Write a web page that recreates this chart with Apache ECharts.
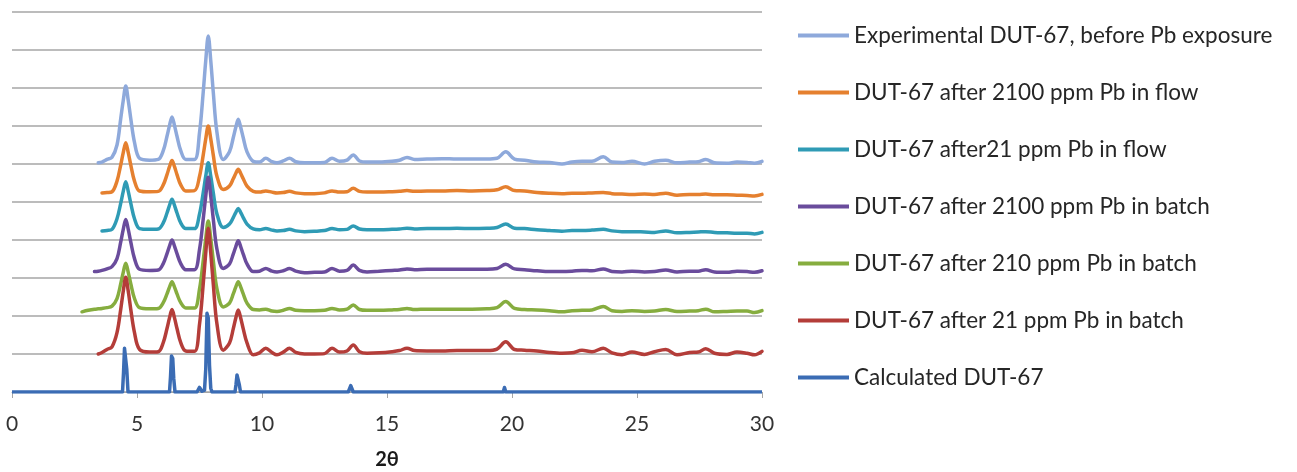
<!DOCTYPE html>
<html>
<head>
<meta charset="utf-8">
<script src="https://cdn.jsdelivr.net/npm/echarts@6/dist/echarts.min.js"></script>
<style>
html,body{margin:0;padding:0;background:#fff;overflow:hidden;}
#chart{width:1297px;height:472px;}
</style>
</head>
<body>
<div id="chart"></div>
<script>
// 2θ sampling positions shared by the experimental patterns
const twoTheta = [
  2.8, 3.05, 3.3, 3.45, 3.6, 3.8, 4.0, 4.2, 4.35, 4.45,
  4.55, 4.65, 4.75, 4.9, 5.1, 5.5, 5.85, 6.05, 6.2, 6.3,
  6.4, 6.5, 6.6, 6.75, 6.95, 7.3, 7.5, 7.65, 7.75, 7.85,
  7.95, 8.05, 8.2, 8.45, 8.7, 8.85, 8.95, 9.05, 9.15, 9.25,
  9.4, 9.65, 9.9, 10.15, 10.4, 10.6, 10.85, 11.1, 11.35, 11.7,
  12.1, 12.5, 12.8, 13.1, 13.4, 13.65, 13.9, 14.2, 14.7, 15.2,
  15.5, 15.8, 16.1, 16.6, 17.2, 17.8, 18.4, 19.0, 19.4, 19.75,
  20.1, 20.5, 21.0, 21.5, 22.0, 22.4, 22.8, 23.2, 23.65, 24.0,
  24.4, 24.8, 25.3, 25.7, 26.15, 26.6, 27.1, 27.45, 27.75, 28.1,
  28.6, 29.0, 29.4, 29.7, 30.0
];
const expBefore = [
  null, null, null, 6.03, 6.05, 6.12, 6.18, 6.5, 7.2, 7.67,
  8.05, 7.67, 7.2, 6.57, 6.15, 6.1, 6.12, 6.35, 6.73, 7.01,
  7.24, 7.01, 6.73, 6.35, 6.12, 6.12, 6.82, 7.9, 8.72, 9.37,
  8.72, 7.9, 6.82, 6.12, 6.32, 6.69, 6.96, 7.18, 6.96, 6.69,
  6.32, 6.07, 6.05, 6.15, 6.06, 6.03, 6.08, 6.15, 6.06, 6.03,
  6.03, 6.04, 6.15, 6.07, 6.1, 6.24, 6.08, 6.05, 6.05, 6.07,
  6.1, 6.17, 6.12, 6.13, 6.14, 6.13, 6.13, 6.13, 6.15, 6.32,
  6.13, 6.1, 6.05, 6.04, 6.0, 6.05, 6.07, 6.07, 6.19, 6.05,
  6.04, 6.07, 6.0, 6.07, 6.1, 6.03, 6.05, 6.06, 6.12, 6.03,
  6.02, 6.05, 6.04, 6.02, 6.07
];
const flow2100 = [
  null, null, null, null, 5.24, 5.25, 5.27, 5.55, 5.98, 6.3,
  6.56, 6.3, 5.98, 5.55, 5.29, 5.27, 5.28, 5.45, 5.72, 5.93,
  6.09, 5.93, 5.72, 5.45, 5.29, 5.3, 5.67, 6.24, 6.66, 7.0,
  6.66, 6.24, 5.67, 5.33, 5.42, 5.61, 5.75, 5.86, 5.75, 5.61,
  5.42, 5.28, 5.26, 5.29, 5.26, 5.24, 5.25, 5.28, 5.24, 5.22,
  5.22, 5.24, 5.29, 5.26, 5.27, 5.36, 5.28, 5.26, 5.26, 5.27,
  5.28, 5.3, 5.28, 5.29, 5.29, 5.3, 5.29, 5.3, 5.32, 5.4,
  5.3, 5.29, 5.25, 5.23, 5.22, 5.23, 5.23, 5.24, 5.25, 5.22,
  5.21, 5.2, 5.21, 5.2, 5.23, 5.18, 5.2, 5.2, 5.21, 5.19,
  5.19, 5.18, 5.17, 5.16, 5.2
];
const flow21 = [
  null, null, null, null, 4.24, 4.25, 4.28, 4.56, 4.97, 5.28,
  5.53, 5.28, 4.97, 4.56, 4.3, 4.28, 4.29, 4.45, 4.71, 4.91,
  5.07, 4.91, 4.71, 4.45, 4.3, 4.3, 4.68, 5.25, 5.68, 6.03,
  5.68, 5.25, 4.68, 4.33, 4.42, 4.59, 4.72, 4.83, 4.72, 4.59,
  4.42, 4.29, 4.27, 4.3, 4.26, 4.24, 4.25, 4.28, 4.24, 4.22,
  4.23, 4.25, 4.3, 4.27, 4.28, 4.37, 4.29, 4.27, 4.27, 4.28,
  4.29, 4.31, 4.29, 4.3, 4.3, 4.31, 4.3, 4.31, 4.33, 4.42,
  4.31, 4.3, 4.27, 4.25, 4.23, 4.25, 4.25, 4.26, 4.28, 4.24,
  4.22, 4.22, 4.21, 4.2, 4.24, 4.19, 4.2, 4.21, 4.22, 4.2,
  4.19, 4.18, 4.18, 4.16, 4.2
];
const batch2100 = [
  null, null, 3.17, 3.18, 3.2, 3.24, 3.3, 3.51, 3.95, 4.28,
  4.54, 4.28, 3.95, 3.51, 3.23, 3.2, 3.21, 3.38, 3.64, 3.84,
  4.0, 3.84, 3.64, 3.38, 3.22, 3.22, 3.75, 4.56, 5.16, 5.65,
  5.16, 4.56, 3.75, 3.25, 3.37, 3.63, 3.82, 3.98, 3.82, 3.63,
  3.37, 3.17, 3.18, 3.25, 3.18, 3.16, 3.19, 3.25, 3.18, 3.14,
  3.15, 3.16, 3.25, 3.18, 3.2, 3.34, 3.2, 3.16, 3.18, 3.2,
  3.21, 3.24, 3.22, 3.23, 3.23, 3.23, 3.23, 3.23, 3.25, 3.36,
  3.24, 3.22, 3.19, 3.17, 3.17, 3.18, 3.2, 3.19, 3.24, 3.17,
  3.16, 3.18, 3.16, 3.17, 3.21, 3.16, 3.18, 3.18, 3.22, 3.16,
  3.15, 3.18, 3.17, 3.15, 3.19
];
const batch210 = [
  2.11, 2.15, 2.18, 2.19, 2.2, 2.22, 2.26, 2.46, 2.85, 3.15,
  3.39, 3.15, 2.85, 2.46, 2.22, 2.19, 2.2, 2.35, 2.58, 2.76,
  2.9, 2.76, 2.58, 2.35, 2.21, 2.21, 2.71, 3.47, 4.04, 4.5,
  4.04, 3.47, 2.71, 2.24, 2.34, 2.58, 2.76, 2.9, 2.76, 2.58,
  2.34, 2.17, 2.16, 2.18, 2.13, 2.12, 2.15, 2.2, 2.15, 2.14,
  2.14, 2.15, 2.2, 2.16, 2.18, 2.29, 2.17, 2.15, 2.15, 2.16,
  2.17, 2.2, 2.17, 2.18, 2.18, 2.18, 2.18, 2.19, 2.22, 2.38,
  2.2, 2.17, 2.16, 2.14, 2.11, 2.14, 2.15, 2.16, 2.25, 2.14,
  2.12, 2.14, 2.12, 2.13, 2.17, 2.12, 2.13, 2.14, 2.18, 2.11,
  2.12, 2.13, 2.13, 2.09, 2.14
];
const batch21 = [
  null, null, null, 1.0, 1.04, 1.12, 1.19, 1.56, 2.18, 2.65,
  3.02, 2.65, 2.18, 1.56, 1.12, 1.05, 1.06, 1.3, 1.67, 1.95,
  2.17, 1.95, 1.67, 1.3, 1.08, 1.07, 1.78, 2.85, 3.66, 4.31,
  3.66, 2.85, 1.78, 1.1, 1.29, 1.66, 1.94, 2.16, 1.94, 1.66,
  1.29, 0.98, 1.03, 1.15, 1.04, 0.98, 1.05, 1.15, 1.04, 1.0,
  1.0, 1.01, 1.15, 1.05, 1.08, 1.24, 1.06, 1.02, 1.03, 1.06,
  1.09, 1.15, 1.09, 1.08, 1.08, 1.09, 1.09, 1.09, 1.13, 1.32,
  1.12, 1.1, 1.08, 1.04, 1.02, 1.03, 1.1, 1.06, 1.15, 1.03,
  0.98, 1.05, 0.99, 1.06, 1.12, 0.98, 1.04, 1.05, 1.14, 1.02,
  0.99, 1.05, 1.02, 0.98, 1.07
];
// calculated pattern (sharp reflections)
const calcTheta = [
  0, 4.42, 4.46, 4.5, 4.55, 4.59, 4.64,
  6.3, 6.34, 6.38, 6.43, 6.47, 6.52,
  7.4, 7.5, 7.6, 7.7, 7.75, 7.8, 7.85, 7.9, 7.95, 8.0,
  8.92, 8.96, 9.0, 9.05, 9.09, 9.14,
  12.75, 12.8, 12.85, 13.45, 13.55, 13.65,
  15.75, 15.8, 15.85, 19.65, 19.7, 19.75,
  23.6, 23.65, 23.7, 26.1, 26.15, 26.2,
  27.7, 27.75, 27.8, 29.85, 29.9, 29.95, 30
];
const calcInt = [
  0, 0, 0.5, 1.15, 1.19, 0.6, 0,
  0, 0.4, 0.95, 0.88, 0.35, 0,
  0, 0.12, 0.02, 0.05, 0.6, 2.07, 1.95, 0.7, 0.1, 0,
  0, 0.2, 0.45, 0.47, 0.2, 0,
  0, 0.05, 0, 0, 0.17, 0,
  0, 0.05, 0, 0, 0.12, 0,
  0, 0.05, 0, 0, 0.04, 0,
  0, 0.04, 0, 0, 0.05, 0, 0
];
const seriesNames = [
  'Experimental DUT-67, before Pb exposure',
  'DUT-67 after 2100 ppm Pb in flow',
  'DUT-67 after21 ppm Pb in flow',
  'DUT-67 after 2100 ppm Pb in batch',
  'DUT-67 after 210 ppm Pb in batch',
  'DUT-67 after 21 ppm Pb in batch',
  'Calculated DUT-67'
];
const xTicks = [0, 5, 10, 15, 20, 25, 30];

const colors = ['#8EA9DB', '#E5802F', '#2F9BB5', '#6A4C9C', '#86AD3F', '#B43D39', '#3B6CB4'];
const expSets = [expBefore, flow2100, flow21, batch2100, batch210, batch21];

function pairs(xs, ys) {
  const out = [];
  for (let i = 0; i < xs.length; i++) if (ys[i] !== null) out.push([xs[i], ys[i]]);
  return out;
}

const series = expSets.map((ys, i) => ({
  name: seriesNames[i],
  type: 'line',
  data: pairs(twoTheta, ys),
  showSymbol: false,
  smooth: 0.35,
  lineStyle: { width: 3.5, color: colors[i], cap: 'round', join: 'round' },
  itemStyle: { color: colors[i] },
  z: 2 + i
}));
series.push({
  name: seriesNames[6],
  type: 'line',
  data: pairs(calcTheta, calcInt),
  showSymbol: false,
  smooth: false,
  lineStyle: { width: 3.5, color: colors[6], join: 'round' },
  itemStyle: { color: colors[6] },
  z: 10
});

const chart = echarts.init(document.getElementById('chart'), null, { renderer: 'canvas' });
chart.setOption({
  animation: false,
  backgroundColor: '#ffffff',
  grid: { left: 12, right: 535, top: 12, bottom: 80, containLabel: false, outerBoundsMode: 'none' },
  xAxis: {
    type: 'value', min: 0, max: 30, interval: 5,
    name: '2θ', nameLocation: 'middle', nameGap: 58,
    nameTextStyle: { fontFamily: 'Lato', fontSize: 20, fontWeight: 'bold', color: '#1a1a1a' },
    axisLine: { show: true, onZero: false, lineStyle: { color: '#A6A6A6', width: 1 } },
    axisTick: { show: true, length: 6, lineStyle: { color: '#A6A6A6' } },
    axisLabel: {
      fontFamily: 'Lato', fontSize: 21, color: '#333333', margin: 22,
      formatter: v => (xTicks.indexOf(v) >= 0 ? String(v) : '')
    },
    splitLine: { show: false }
  },
  yAxis: {
    type: 'value', min: 0, max: 10, interval: 1,
    axisLine: { show: false }, axisTick: { show: false }, axisLabel: { show: false },
    splitLine: { show: true, lineStyle: { color: '#A6A6A6', width: 1.5 } }
  },
  legend: {
    orient: 'vertical', left: 793, top: 19,
    data: seriesNames,
    icon: 'rect', itemWidth: 51, itemHeight: 4, itemGap: 34,
    textStyle: { fontFamily: 'Lato', fontSize: 22.5, color: '#262626', lineHeight: 22 }
  },
  series: series
});
</script>
</body>
</html>
